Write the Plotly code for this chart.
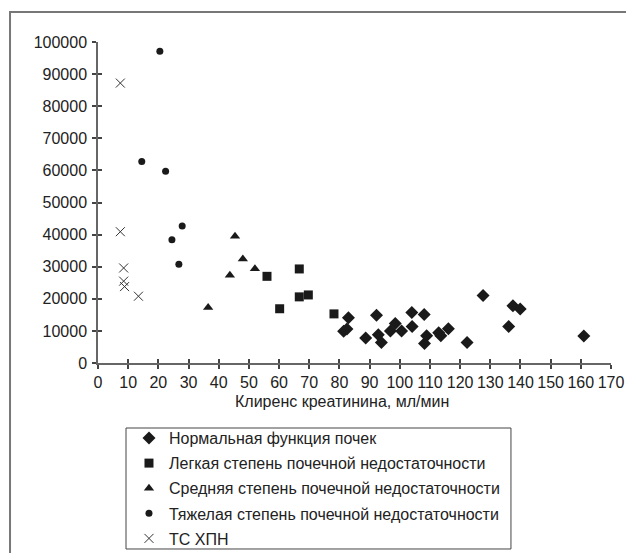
import plotly.graph_objects as go

# Data
normal_x = [81.4, 82.5, 83.0, 88.7, 92.3, 92.9, 93.9, 96.9, 98.5, 100.6, 104.0, 104.1, 108.1, 108.2,
            108.9, 112.9, 113.6, 116.1, 122.3, 127.6, 136.1, 137.5, 139.9, 161.0]
normal_y = [9900, 10600, 14100, 7800, 14900, 8800, 6400, 10000, 12300, 10000, 15700, 11400, 15100, 6100,
            8500, 9400, 8500, 10700, 6400, 21000, 11400, 17800, 16800, 8400]

mild_x = [56.0, 60.2, 66.7, 66.7, 69.7, 78.2]
mild_y = [27000, 16900, 29300, 20600, 21200, 15300]

moderate_x = [36.5, 43.7, 45.4, 48.0, 52.0]
moderate_y = [17300, 27300, 39500, 32400, 29400]

severe_x = [20.5, 14.5, 22.4, 24.5, 27.9, 26.8]
severe_y = [97100, 62800, 59700, 38400, 42700, 30800]

esrd_x = [7.4, 7.4, 8.5, 8.5, 8.8, 13.4]
esrd_y = [87200, 40900, 29600, 25500, 23800, 20800]

names = [
    "Нормальная функция почек",
    "Легкая степень почечной недостаточности",
    "Средняя степень почечной недостаточности",
    "Тяжелая степень почечной недостаточности",
    "ТС ХПН",
]

x_ticks = list(range(0, 171, 10))
y_ticks = list(range(0, 100001, 10000))
y_tick_labels = [str(v) for v in y_ticks]

FONT = "Liberation Sans"
INK = "#1a1a1a"

fig = go.Figure()
fig.add_trace(go.Scatter(x=normal_x, y=normal_y, mode="markers", name=names[0], legendgroup="g0",
                         marker=dict(symbol="diamond", size=10, color=INK)))
fig.add_trace(go.Scatter(x=mild_x, y=mild_y, mode="markers", name=names[1], legendgroup="g1",
                         marker=dict(symbol="square", size=9, color=INK)))
fig.add_trace(go.Scatter(x=moderate_x, y=moderate_y, mode="markers", name=names[2], legendgroup="g2",
                         marker=dict(symbol="triangle-up", size=9, color=INK)))
fig.add_trace(go.Scatter(x=severe_x, y=severe_y, mode="markers", name=names[3], legendgroup="g3",
                         marker=dict(symbol="circle", size=7, color=INK)))
fig.add_trace(go.Scatter(x=esrd_x, y=esrd_y, mode="markers", name=names[4], legendgroup="g4",
                         marker=dict(symbol="x-thin", size=9, color=INK,
                                     line=dict(width=1, color="#333"))))

axis_common = dict(showgrid=False, zeroline=False, showline=True, linecolor="#666", linewidth=1.5,
                   ticks="outside", ticklen=4, tickcolor="#444", tickwidth=1.5, automargin=False,
                   tickfont=dict(family=FONT, size=16, color="#222"))

fig.update_layout(
    width=626, height=553,
    paper_bgcolor="white", plot_bgcolor="white",
    margin=dict(l=98, r=15, t=42, b=190, autoexpand=False),
    font=dict(family=FONT, size=16, color="#222"),
    xaxis=dict(range=[0, 170], tickvals=x_ticks, **axis_common),
    yaxis=dict(range=[0, 100000], tickvals=y_ticks, ticktext=y_tick_labels,
               ticklabelstandoff=2, **axis_common),
    xaxis2=dict(overlaying="x", matches="x", range=[0, 170], tickvals=x_ticks, ticks="inside",
                ticklen=4, tickcolor="#444", tickwidth=1.5, showticklabels=False, automargin=False,
                showline=False, showgrid=False, zeroline=False, side="bottom", anchor="y"),
    yaxis2=dict(overlaying="y", matches="y", range=[0, 100000], tickvals=y_ticks, ticks="inside",
                ticklen=4, tickcolor="#444", tickwidth=1.5, showticklabels=False, automargin=False,
                showline=False, showgrid=False, zeroline=False, side="left", anchor="x"),
    showlegend=True,
    legend=dict(x=0.0604, y=-0.181, xanchor="left", yanchor="top",
                borderwidth=0, bgcolor="rgba(0,0,0,0)",
                font=dict(family=FONT, size=16, color="#222"), tracegroupgap=1.3),
    shapes=[
        dict(type="path", xref="paper", yref="paper",
             path="M -0.1715 -0.8 L -0.1715 1.0935 L 1.2 1.0935",
             line=dict(color="#777", width=2)),
        dict(type="rect", xref="paper", yref="paper",
             x0=0.0546, x1=0.805, y0=-0.5794, y1=-0.2025,
             line=dict(color="#444", width=1)),
    ],
    annotations=[dict(text="Клиренс креатинина, мл/мин", xref="paper", yref="paper",
                      x=0.475, y=-0.12, xanchor="center", yanchor="middle", showarrow=False,
                      font=dict(family=FONT, size=16, color="#222"))],
)
# invisible trace so the overlaid tick axes are drawn
fig.add_trace(go.Scatter(x=[None], y=[None], xaxis="x2", yaxis="y2", showlegend=False, hoverinfo="skip"))

# remove the default page margin so the figure fills the window exactly
page_fix = ("document.body.style.margin='0';document.body.style.padding='0';"
            "document.documentElement.style.overflow='hidden';")
fig.write_html("out.html", post_script=page_fix, config={"displayModeBar": False})
